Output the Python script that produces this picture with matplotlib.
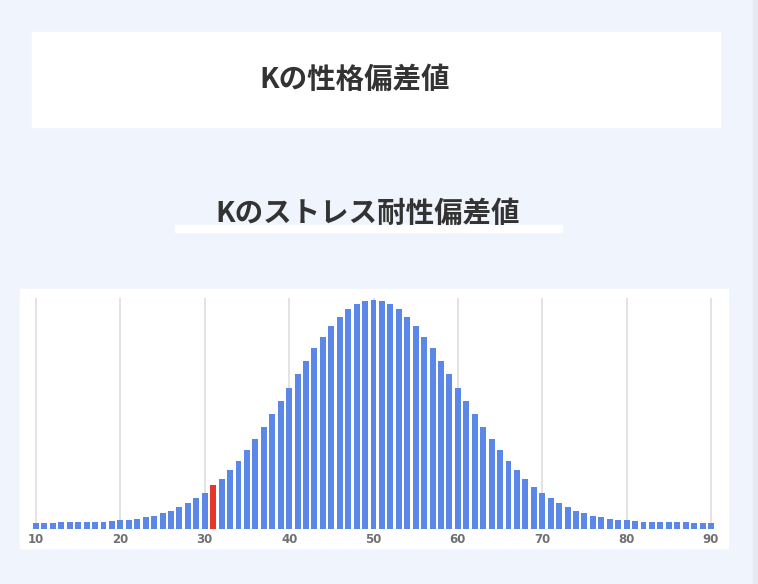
import matplotlib.pyplot as plt
from matplotlib.patches import Rectangle

plt.rcParams['font.family'] = ['Noto Sans CJK JP', 'DejaVu Sans']

# 偏差値と人数の分布（画像から読み取り、相対値）
scores = list(range(10, 91))
counts = [17, 17, 17, 20, 20, 20, 20, 22, 22, 24,
          27, 28, 31, 36, 40, 47, 55, 66, 77, 92,
          109, 132, 149, 176, 204, 236, 269, 306, 344, 383,
          424, 465, 505, 542, 577, 608, 637, 659, 674, 685,
          687, 685, 674, 659, 637, 608, 577, 542, 505, 465,
          424, 383, 344, 306, 269, 236, 204, 176, 149, 127,
          109, 92, 77, 66, 55, 47, 40, 36, 31, 28,
          27, 24, 22, 22, 20, 20, 20, 20, 17, 17, 17]
my_score = 31
xticks = [10, 20, 30, 40, 50, 60, 70, 80, 90]

title_main = 'Kの性格偏差値'
title_sub = 'Kのストレス耐性偏差値'

W, H = 758, 584
fig = plt.figure(figsize=(W / 100, H / 100), dpi=100)
fig.patch.set_facecolor('#f0f4fd')


def box(x0, y0, x1, y1, color):
    # ピクセル座標（上からの距離）で四角形を描く
    fig.patches.append(Rectangle((x0 / W, 1 - y1 / H), (x1 - x0) / W, (y1 - y0) / H,
                                 transform=fig.transFigure, color=color, zorder=-5))


box(753, 0, 758, 584, '#e6e9f1')
box(32, 32, 720, 127, 'white')
box(175, 225, 562, 232, 'white')
box(20, 289, 728, 548, 'white')

fig.text(355 / W, 1 - 80 / H, title_main, ha='center', va='center',
         fontsize=20.5, fontweight='bold', color='#333333')
fig.text(368 / W, 1 - 214 / H, title_sub, ha='center', va='center',
         fontsize=20.5, fontweight='bold', color='#333333')

ax = fig.add_axes([20 / W, 1 - 529 / H, 708 / W, 231 / H])
ax.set_zorder(2)
ax.patch.set_alpha(0)
colors = ['#e8352a' if s == my_score else '#5b87e8' for s in scores]
ax.bar(scores, counts, width=0.7, color=colors, zorder=2)

ppu = (711 - 36) / 80
ax.set_xlim(10 - 16 / ppu, 90 + 17 / ppu)
ax.set_ylim(0, 693)
ax.set_xticks(xticks)
ax.set_xticklabels([str(t) for t in xticks], fontsize=8.5, fontweight='bold',
                   color='#707070', family='DejaVu Sans')
ax.tick_params(axis='x', length=0, pad=3)
ax.set_yticks([])
ax.grid(axis='x', color='#e0e0e0', linewidth=1.3, zorder=0)
ax.set_axisbelow(True)
for sp in ax.spines.values():
    sp.set_visible(False)

fig.savefig('out.png', dpi=100, facecolor=fig.get_facecolor())
